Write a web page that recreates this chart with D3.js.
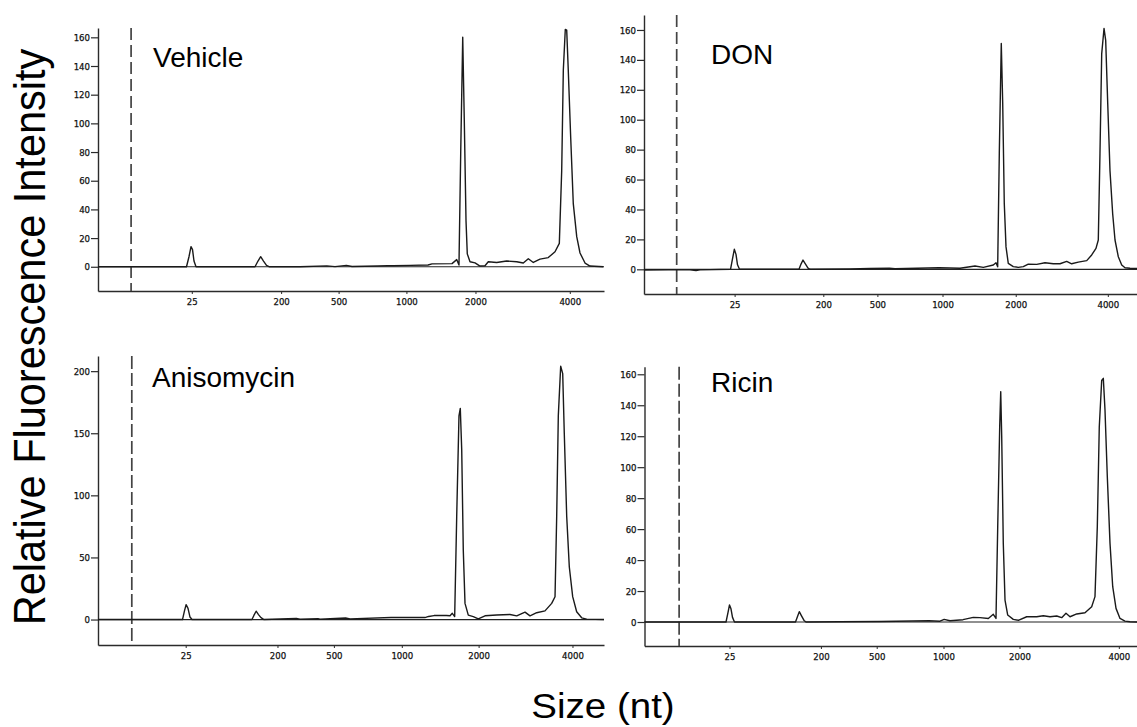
<!DOCTYPE html>
<html>
<head>
<meta charset="utf-8">
<script src="https://cdn.jsdelivr.net/npm/d3@7/dist/d3.min.js"></script>
<style>
  html, body { margin: 0; padding: 0; background: #fff; }
  svg { display: block; }
</style>
</head>
<body>
<svg id="chart" width="1137" height="727"></svg>
<script>
// ---------------- DATA ----------------
// x values are migration-time units (0-100 across each electropherogram window)
const panelNames = ["Vehicle", "DON", "Anisomycin", "Ricin"];
const ladderSizes = [25, 200, 500, 1000, 2000, 4000];

const ladderTimesVehicle    = [18.54, 36.19, 47.55, 60.95, 74.60, 93.24];
const ladderTimesDON        = [18.38, 36.37, 47.34, 60.55, 75.40, 94.08];
const ladderTimesAnisomycin = [17.33, 35.47, 46.62, 60.04, 75.22, 93.77];
const ladderTimesRicin      = [17.26, 35.82, 47.15, 60.71, 76.14, 96.31];

const markerTimes = [6.54, 6.63, 6.68, 7.03];   // lower marker (dashed line)

const yTicksVehicle    = [0, 20, 40, 60, 80, 100, 120, 140, 160];
const yTicksDON        = [0, 20, 40, 60, 80, 100, 120, 140, 160];
const yTicksAnisomycin = [0, 50, 100, 150, 200];
const yTicksRicin      = [0, 20, 40, 60, 80, 100, 120, 140, 160];

const yRangeVehicle    = [-16.9, 166.5];
const yRangeDON        = [-16.5, 170.0];
const yRangeAnisomycin = [-20.5, 212.2];
const yRangeRicin      = [-15.5, 164.9];

// [time, fluorescence]
const traceVehicle = [
  [0,0],[17.49,0],[17.98,7],[18.38,14],[18.68,12],[18.97,4],[19.37,0],
  [31.03,0],[31.62,4],[32.15,7],[32.71,4],[33.30,1],[33.89,0],
  [39.92,0],[45.22,0.6],[46.84,0.1],[49.09,1],[50.20,0.2],[55.32,0.5],[57.21,0.7],
  [58.30,0.7],[61.66,1],[65.22,1.2],[66.01,2],[69.96,2.2],[70.89,5],[71.34,1.2],
  [71.68,79],[72.08,160],[72.39,102],[72.73,32],[72.98,9],[73.52,3.5],[74.51,2.7],
  [75.49,0.5],[76.48,0.7],[77.13,3.5],[78.79,3],[80.77,4],[82.75,3.5],[84.05,2.6],
  [85.04,5.6],[86.03,3],[87.35,5.3],[88.99,6.4],[90.32,10.5],[91.17,16.3],
  [91.64,67],[91.96,137],[92.35,165.5],[92.63,165],[92.94,137],[93.42,90],
  [93.93,44],[94.61,21],[95.26,9.6],[96.25,2.6],[97.23,0.5],[99.86,0]
];
const traceDON = [
  [0,-0.5],[4.87,-0.3],[9.33,-0.4],[10.55,-0.9],[11.36,-0.4],
  [17.55,0],[17.95,7],[18.32,13.4],[18.66,10],[18.97,3],[19.37,0],
  [31.44,0],[31.85,3.5],[32.25,6.2],[32.76,3.5],[33.27,0.8],[33.67,0],
  [41.78,0.3],[45.84,0.5],[49.78,0.8],[50.91,0.4],[59.84,1],[64.10,0.7],
  [67.14,2.2],[68.82,1.3],[70.85,2.9],[71.40,4.4],[71.74,1.7],
  [72.07,77.5],[72.47,151],[72.76,111],[73.08,44],[73.43,15],[73.89,4],
  [74.91,1.8],[75.92,1.3],[76.94,1.8],[77.95,3.5],[79.66,3.3],[81.34,4.4],
  [83.02,3.7],[84.38,3.7],[85.74,5.3],[86.75,3.7],[88.09,4.8],[89.80,5.8],
  [90.81,9.6],[91.68,14],[92.15,19.6],[92.49,77.5],[92.84,144],[93.31,161],
  [93.65,153],[94.06,111],[94.52,66],[95.07,37],[95.54,19.6],[96.21,8.4],
  [96.90,2.9],[97.57,1],[98.58,0.7],[100,0.5]
];
const traceAnisomycin = [
  [0,0],[16.70,0],[17.09,7],[17.41,12],[17.79,9],[18.18,2],[18.58,0],
  [30.43,0],[30.83,3.5],[31.25,6.7],[31.72,4],[32.21,1.5],[32.81,0],
  [39.21,0.8],[39.92,0.2],[43.46,0.6],[43.87,0.2],[48.95,1.2],[49.80,0.5],
  [57.91,1.6],[64.62,1.6],[65.34,2.5],[66.40,3.2],[68.85,3.2],[69.57,3],
  [70.02,5],[70.49,2.4],[70.89,83],[71.34,164],[71.60,170],[71.88,137],
  [72.19,56],[72.53,13],[73.18,3.6],[74.17,2.4],[75.16,0.6],[76.48,3],
  [78.79,3.6],[81.42,4.1],[82.75,3],[84.39,6],[85.38,3],[86.70,5.5],[88.34,7],
  [89.66,13],[90.32,18.4],[90.65,83],[90.97,164],[91.44,204],[91.84,198],
  [92.15,150],[92.63,83],[93.14,42.5],[93.81,18.4],[94.60,6.3],[95.59,1.4],
  [96.58,0.3],[100,0]
];
const traceRicin = [
  [0,0],[16.55,0],[16.95,6],[17.26,11],[17.56,8.5],[17.87,3],[18.27,0],
  [30.66,0],[31.07,3.5],[31.43,6.7],[31.88,4],[32.39,1],[32.79,0],
  [39.70,0.2],[47.82,0.3],[57.73,0.8],[60.00,0.5],[60.85,1.7],[62.03,0.8],
  [64.67,1.5],[66.76,3],[68.12,2.8],[69.81,2.3],[70.82,5],[71.37,2.3],
  [71.72,61.6],[72.12,126],[72.33,148.8],[72.53,119.7],[72.85,50.8],[73.20,14.2],
  [73.75,4.5],[74.88,1.7],[75.90,1.1],[77.60,3.4],[79.63,3.4],[80.97,4],
  [82.34,3.4],[83.70,3.9],[84.71,2.8],[85.58,5.6],[86.40,3.4],[87.76,5.2],
  [89.44,6],[90.80,9.9],[91.47,16.4],[91.94,61.6],[92.34,126],[92.83,156],
  [93.16,157.4],[93.50,137],[93.97,94],[94.52,50.8],[95.07,22.8],[95.74,8.8],
  [96.55,2.3],[97.56,0.6],[98.58,0.2],[100,0]
];

// ---------------- LAYOUT ----------------
const panels = [
  { name: panelNames[0], ladder: ladderTimesVehicle, marker: markerTimes[0], yTicks: yTicksVehicle,
    yRange: yRangeVehicle, trace: traceVehicle,
    box: { left: 98, right: 604, top: 28, bottom: 291 }, label: { x: 153, y: 67 }, dash: "12,5" },
  { name: panelNames[1], ladder: ladderTimesDON, marker: markerTimes[1], yTicks: yTicksDON,
    yRange: yRangeDON, trace: traceDON,
    box: { left: 644, right: 1137, top: 15, bottom: 294 }, label: { x: 711, y: 64 }, dash: "12,5" },
  { name: panelNames[2], ladder: ladderTimesAnisomycin, marker: markerTimes[2], yTicks: yTicksAnisomycin,
    yRange: yRangeAnisomycin, trace: traceAnisomycin,
    box: { left: 98, right: 604, top: 356, bottom: 645 }, label: { x: 152, y: 387 }, dash: "13,4" },
  { name: panelNames[3], ladder: ladderTimesRicin, marker: markerTimes[3], yTicks: yTicksRicin,
    yRange: yRangeRicin, trace: traceRicin,
    box: { left: 644.5, right: 1137, top: 366.7, bottom: 646 }, label: { x: 711, y: 392 }, dash: "13,4" }
];

const svg = d3.select("#chart");
const tickFont = "'Liberation Sans Narrow', 'DejaVu Sans Condensed', 'Liberation Sans', sans-serif";
const axisColor = "#2b2b2b";

panels.forEach(p => {
  const b = p.box;
  const x = d3.scaleLinear().domain([0, 100]).range([b.left, b.right]);
  const y = d3.scaleLinear().domain(p.yRange).range([b.bottom, b.top]);
  const g = svg.append("g");

  // Y axis
  const ya = g.append("g")
    .attr("transform", `translate(${b.left},0)`)
    .call(d3.axisLeft(y).tickValues(p.yTicks).tickSize(7).tickSizeOuter(0).tickPadding(1)
      .tickFormat(d3.format("d")));
  ya.select(".domain").attr("stroke", axisColor).attr("stroke-width", 1.4);
  ya.selectAll(".tick line").attr("stroke", axisColor).attr("stroke-width", 1.2);
  ya.selectAll(".tick text").attr("font-family", tickFont).attr("font-size", 9.5)
    .attr("fill", "#111").attr("stroke", "#111").attr("stroke-width", 0.25);

  // X axis
  const xa = g.append("g")
    .attr("transform", `translate(0,${b.bottom})`)
    .call(d3.axisBottom(x).tickValues(p.ladder).tickSize(3).tickSizeOuter(0).tickPadding(4)
      .tickFormat((d, i) => ladderSizes[i]));
  xa.select(".domain").attr("stroke", axisColor).attr("stroke-width", 1.4);
  xa.selectAll(".tick line").attr("stroke", axisColor).attr("stroke-width", 1);
  xa.selectAll(".tick text").attr("font-family", tickFont).attr("font-size", 9.5)
    .attr("fill", "#111").attr("stroke", "#111").attr("stroke-width", 0.25);

  // zero baseline
  g.append("line")
    .attr("x1", x(0)).attr("x2", x(100))
    .attr("y1", y(0)).attr("y2", y(0))
    .attr("stroke", "#222").attr("stroke-width", 1.2);

  // lower marker dashed line
  g.append("line")
    .attr("x1", x(p.marker)).attr("x2", x(p.marker))
    .attr("y1", y(p.yRange[1])).attr("y2", y(p.yRange[0]))
    .attr("stroke", "#444").attr("stroke-width", 1.7)
    .attr("stroke-dasharray", p.dash);

  // trace
  const line = d3.line().x(d => x(d[0])).y(d => y(d[1]));
  g.append("path")
    .datum(p.trace)
    .attr("d", line)
    .attr("fill", "none")
    .attr("stroke", "#1a1a1a")
    .attr("stroke-width", 1.4)
    .attr("stroke-linejoin", "round");

  // sample label
  g.append("text")
    .attr("x", p.label.x).attr("y", p.label.y)
    .attr("font-family", "'Liberation Sans', Arial, sans-serif")
    .attr("font-size", 28)
    .attr("fill", "#000")
    .text(p.name);
});

// Axis titles
svg.append("text")
  .attr("transform", "translate(45,337) rotate(-90) scale(1,1.08)")
  .attr("text-anchor", "middle")
  .attr("font-family", "'Liberation Sans', Arial, sans-serif")
  .attr("font-size", 41.5)
  .attr("fill", "#000")
  .text("Relative Fluorescence Intensity");

svg.append("text")
  .attr("transform", "translate(603,718) scale(1.1,1)")
  .attr("text-anchor", "middle")
  .attr("font-family", "'Liberation Sans', Arial, sans-serif")
  .attr("font-size", 35)
  .attr("fill", "#000")
  .text("Size (nt)");
</script>
</body>
</html>
